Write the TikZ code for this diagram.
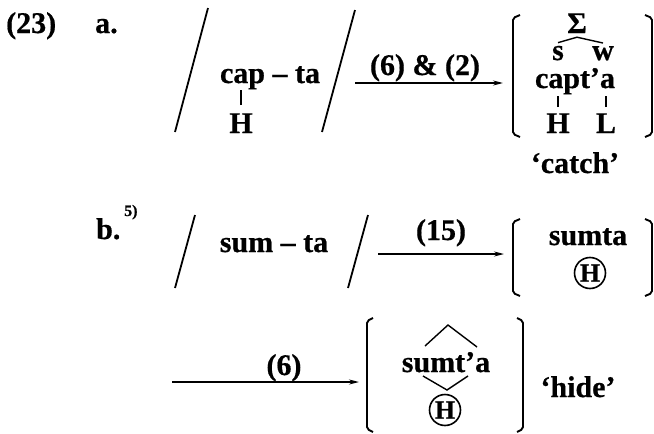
\documentclass[tikz,border=0pt]{standalone}
\usepackage{fontspec}
\setmainfont{Liberation Serif}[BoldFeatures={FakeBold=0.6}]
\usetikzlibrary{arrows.meta}
\begin{document}
\begin{tikzpicture}[x=1pt,y=-1pt,
  txt/.style={font=\fontsize{30}{35}\selectfont\bfseries, inner sep=0pt, anchor=base},
  suptxt/.style={font=\fontsize{16}{18}\selectfont\bfseries, inner sep=0pt, anchor=base west},
  slashline/.style={line width=1.8pt},
  tickline/.style={line width=1.4pt},
  arr/.style={line width=1.4pt, -{Stealth[length=10pt,width=5pt]}},
  brk/.style={line width=1.9pt, rounded corners=2pt},
  circH/.style={draw, circle, line width=1.6pt, inner sep=0pt, minimum size=31pt, font=\fontsize{26}{28}\selectfont\bfseries}
]
\useasboundingbox (0,0) rectangle (654,434);

% ---------- row a ----------
\node[txt, anchor=base west] (n23) at (6,33) {(23)};
\node[txt, anchor=base west] (la) at (95,33) {a.};
\coordinate (s1t) at (208,8); \coordinate (s1b) at (175,132);
\draw[slashline] (s1t) -- (s1b);
\node[txt] (capta) at (270,83) {cap – ta};
\node[txt] (H1) at (241,133) {H};
\draw[tickline] ([yshift=8pt]H1.north) -- ([yshift=23pt]H1.north);
\coordinate (s2t) at (355,10); \coordinate (s2b) at (322,132);
\draw[slashline] (s2t) -- (s2b);
\coordinate (a1s) at (355,83); \coordinate (a1e) at (503,83);
\draw[arr] (a1s) -- (a1e);
\node[txt] (lab1) at (425,75) {(6) \& (2)};
\draw[brk] (520,15) -- (513,18) -- (513,134) -- (520,137);
\draw[brk] (645,15) -- (652,18) -- (652,134) -- (645,137);
\node[txt] (Sig) at (577,33) {Σ};
\node[txt] (sS) at (558,60) {s};
\node[txt] (sW) at (603,60) {w};
\draw[tickline] ([yshift=3pt]sS.north) -- ([yshift=-4pt]Sig.south) -- ([yshift=3pt]sW.north);
\node[txt] (capta2) at (575,88) {capt’a};
\node[txt] (H2) at (558,133) {H};
\node[txt] (L2) at (606,133) {L};
\draw[tickline] ([yshift=6pt]H2.north) -- ([yshift=17pt]H2.north);
\draw[tickline] ([yshift=6pt]L2.north) -- ([yshift=17pt]L2.north);
\node[txt] (catch) at (575,173) {‘catch’};

% ---------- row b ----------
\node[txt, anchor=base west] (lb) at (96,239) {b.};
\node[suptxt] (fn) at (124,216) {5)};
\coordinate (s3t) at (195,215); \coordinate (s3b) at (175,288);
\draw[slashline] (s3t) -- (s3b);
\node[txt] (sumta) at (274,252) {sum – ta};
\coordinate (s4t) at (368,215); \coordinate (s4b) at (348,288);
\draw[slashline] (s4t) -- (s4b);
\coordinate (a2s) at (378,254); \coordinate (a2e) at (504,254);
\draw[arr] (a2s) -- (a2e);
\node[txt] (lab2) at (441,240) {(15)};
\draw[brk] (520,219) -- (513,222) -- (513,293) -- (520,296);
\draw[brk] (645,219) -- (652,222) -- (652,293) -- (645,296);
\node[txt] (sumta2) at (588,245) {sumta};
\node[circH] (cH1) at (590,273) {H};

% ---------- row c ----------
\coordinate (a3s) at (172,382); \coordinate (a3e) at (359,382);
\draw[arr] (a3s) -- (a3e);
\node[txt] (lab3) at (284,375) {(6)};
\draw[brk] (373,318) -- (367,321) -- (367,429) -- (373,432);
\draw[brk] (517,318) -- (523,321) -- (523,429) -- (517,432);
\node[txt] (sumta3) at (446,372) {sumt’a};
\coordinate (dl) at (425,346); \coordinate (dt) at (448,325); \coordinate (dr) at (477,347);
\coordinate (bl) at (423,376); \coordinate (bb) at (447,390); \coordinate (br) at (468,376);
\draw[tickline] (dl) -- (dt) -- (dr);
\draw[tickline] (bl) -- (bb) -- (br);
\node[circH] (cH2) at (445,410) {H};
\node[txt] (hide) at (578,397) {‘hide’};
\end{tikzpicture}
\end{document}
